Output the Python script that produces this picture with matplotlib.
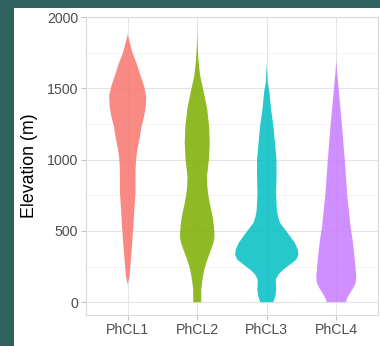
import numpy as np
import matplotlib.pyplot as plt
from matplotlib.patches import Rectangle

plt.rcParams['font.family'] = ['Liberation Sans', 'DejaVu Sans']

# groups and fill colours (ggplot hue palette)
groups = ["PhCL1", "PhCL2", "PhCL3", "PhCL4"]
colors = ["#F8766D", "#7CAE00", "#00BFC4", "#C77CFF"]

# violin outlines: elevation (m) and half-width (category units)
elev1 = [1879, 1820, 1750, 1680, 1587, 1517, 1446, 1376, 1306, 1236, 1166, 1072,
         1000, 932, 885, 767, 650, 534, 417, 300, 182, 124]
half1 = [0, .031, .068, .125, .187, .235, .266, .261, .237, .2, .177, .139,
         .12, .113, .112, .112, .096, .082, .065, .046, .026, 0]

elev2 = [1900, 1797, 1700, 1587, 1470, 1353, 1236, 1119, 1000, 885, 820, 767,
         700, 650, 590, 534, 463, 420, 370, 320, 276, 230, 182, 130, 89, 0]
half2 = [0, .006, .017, .043, .096, .144, .17, .18, .168, .141, .144, .155,
         .178, .2, .225, .24, .249, .235, .2, .162, .13, .103, .083, .068, .058, .058]

elev3 = [1680, 1550, 1470, 1353, 1236, 1119, 1000, 885, 767, 650, 600, 557, 510,
         463, 417, 370, 335, 300, 264, 229, 194, 159, 120, 89, 40, 0]
half3 = [0, .012, .039, .062, .096, .118, .14, .14, .134, .144, .162, .191, .264,
         .335, .403, .446, .456, .427, .335, .24, .168, .13, .132, .137, .122, .094]

elev4 = [1692, 1600, 1470, 1236, 1000, 767, 534, 417, 300, 182, 136, 100,
         65, 30, 0]
half4 = [0, .014, .039, .083, .122, .155, .204, .24, .266, .288, .28, .245,
         .2, .158, .137]

profiles = [(elev1, half1), (elev2, half2), (elev3, half3), (elev4, half4)]

W, H = 380, 346
fig = plt.figure(figsize=(W / 100, H / 100), dpi=100, facecolor="#2d625e")
fig.patches.append(Rectangle((14 / W, 0), 1, 1 - 8 / H, transform=fig.transFigure,
                             facecolor="white", edgecolor="none", zorder=-1))

ax = fig.add_axes([86 / W, 1 - 315 / H, 292 / W, (315 - 16.5) / H])
ax.set_facecolor("white")

for i, (el, hw) in enumerate(profiles):
    el = np.array(el, dtype=float)
    hw = np.array(hw)
    pos = i + 1
    ax.fill_betweenx(el, pos - hw, pos + hw, facecolor=colors[i], alpha=0.85,
                     edgecolor="none", zorder=3)

ax.set_xlim(0.4, 4.6)
ax.set_ylim(-90, 2005)
ax.set_xticks(range(1, 5))
ax.set_xticklabels(groups)
ax.set_yticks([0, 500, 1000, 1500, 2000])
ax.set_yticks([250, 750, 1250, 1750], minor=True)

ax.grid(which="major", color="#e4e4e4", linewidth=0.8, zorder=0)
ax.grid(which="minor", axis="y", color="#eeeeee", linewidth=0.5, zorder=0)
ax.set_axisbelow(True)
for s in ax.spines.values():
    s.set_color("#d9d9d9")
    s.set_linewidth(0.8)

ax.tick_params(which="major", length=3.3, width=0.6, color="#b3b3b3",
               labelcolor="#4d4d4d", labelsize=10.2, pad=2.4)
ax.tick_params(which="minor", length=0)

ax.set_ylabel("Elevation (m)", fontsize=12.8, color="black", labelpad=6)

fig.savefig("out.png", dpi=100, facecolor=fig.get_facecolor())
